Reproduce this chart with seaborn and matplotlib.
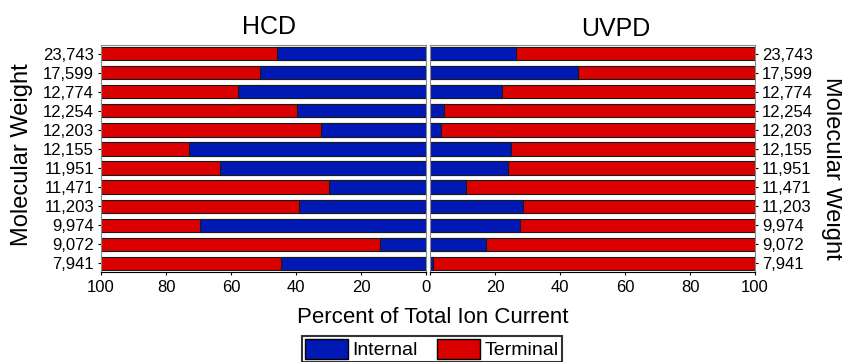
import numpy as np
import pandas as pd
import matplotlib
matplotlib.use('Agg')
import matplotlib.pyplot as plt
from matplotlib.patches import Patch
import seaborn as sns

mw_labels = ['23,743', '17,599', '12,774', '12,254', '12,203', '12,155',
             '11,951', '11,471', '11,203', '9,974', '9,072', '7,941']
hcd_internal = [46.0, 51.2, 57.7, 39.7, 32.3, 72.9, 63.5, 29.9, 39.1, 69.4, 14.2, 44.7]
uvpd_internal = [26.5, 45.6, 22.3, 4.3, 3.4, 24.8, 24.1, 11.2, 28.7, 27.6, 17.3, 0.9]
hcd_terminal = [100 - v for v in hcd_internal]
uvpd_terminal = [100 - v for v in uvpd_internal]
x_ticks = [0, 20, 40, 60, 80, 100]

BLUE = '#0019B4'
RED = '#DA0000'

sns.set_theme(style='white')
plt.rcParams['font.family'] = ['Liberation Sans', 'DejaVu Sans']
for k in ['text.color', 'axes.labelcolor', 'xtick.color', 'ytick.color']:
    plt.rcParams[k] = 'black'

W, H = 842, 362
fig = plt.figure(figsize=(W / 100, H / 100), dpi=100)
ax1 = fig.add_axes([101 / W, 1 - 272 / H, 325 / W, 227 / H])
ax2 = fig.add_axes([430 / W, 1 - 272 / H, 325 / W, 227 / H])

for ax, internal, terminal in [(ax1, hcd_internal, hcd_terminal),
                               (ax2, uvpd_internal, uvpd_terminal)]:
    df = pd.DataFrame({'mw': mw_labels, 'internal': internal,
                       'total': np.array(internal) + np.array(terminal)})
    sns.barplot(data=df, y='mw', x='total', orient='h', color=RED, width=0.7,
                edgecolor='#1a1a1a', linewidth=0.8, saturation=1, ax=ax)
    sns.barplot(data=df, y='mw', x='internal', orient='h', color=BLUE, width=0.7,
                edgecolor='#1a1a1a', linewidth=0.8, saturation=1, ax=ax)
    ax.set_ylim(11.45, -0.45)
    ax.set_xticks(x_ticks)
    ax.set_xticklabels([str(t) for t in x_ticks])
    ax.tick_params(axis='y', labelsize=12, length=2.5, width=0.8, direction='out', pad=2.5)
    ax.tick_params(axis='x', labelsize=12, length=2.5, width=0.8, direction='out', pad=3.5,
                   bottom=True)
    for s in ax.spines.values():
        s.set_color('#8a8a8a')
        s.set_linewidth(0.8)
    ax.spines['bottom'].set_color('black')
    ax.set_xlabel('')
    ax.set_ylabel('')

ax1.set_xlim(100, 0)
ax2.set_xlim(0, 100)
ax1.tick_params(axis='y', left=True, labelleft=True)
ax2.yaxis.tick_right()
ax2.tick_params(axis='y', right=True, labelright=True, left=False, labelleft=False)
ax2.get_xticklabels()[0].set_visible(False)

fig.text(268.5 / W, 1 - 34 / H, 'HCD', fontsize=18, ha='center', va='baseline')
fig.text(616 / W, 1 - 36 / H, 'UVPD', fontsize=18, ha='center', va='baseline')
fig.text(22.5 / W, 1 - 155 / H, 'Molecular Weight', fontsize=17, rotation=90,
         ha='center', va='center')
fig.text(832 / W, 1 - 168 / H, 'Molecular Weight', fontsize=17, rotation=270,
         ha='center', va='center')
fig.text(433 / W, 1 - 323 / H, 'Percent of Total Ion Current', fontsize=16,
         ha='center', va='baseline')

handles = [Patch(facecolor=BLUE, edgecolor='black', label='Internal'),
           Patch(facecolor=RED, edgecolor='black', label='Terminal')]
leg = fig.legend(handles=handles, loc='upper left', bbox_to_anchor=(302 / W, 1 - 336 / H),
                 ncol=2, fontsize=14, frameon=True, fancybox=False, borderpad=0.15,
                 handlelength=2.2, handleheight=1.2, handletextpad=0.25,
                 columnspacing=1.0, borderaxespad=0)
leg.get_frame().set_edgecolor('black')
leg.get_frame().set_linewidth(1.5)

fig.savefig('out.png', dpi=100)
